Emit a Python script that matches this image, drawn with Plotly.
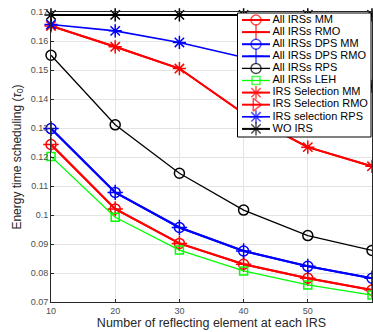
import plotly.graph_objects as go

N = [10, 20, 30, 40, 50, 60]
all_mm = [0.1243, 0.1021, 0.0902, 0.0830, 0.0782, 0.0741]
all_rmo = [0.1243, 0.1021, 0.0902, 0.0830, 0.0782, 0.0741]
dps_mm = [0.1298, 0.1078, 0.0957, 0.0876, 0.0823, 0.0782]
dps_rmo = [0.1298, 0.1078, 0.0957, 0.0876, 0.0823, 0.0782]
all_rps = [0.1551, 0.1311, 0.1144, 0.1017, 0.0929, 0.0878]
all_leh = [0.1202, 0.0992, 0.0879, 0.0807, 0.0759, 0.0724]
sel_mm = [0.1652, 0.1580, 0.1505, 0.1350, 0.1234, 0.1168]
sel_rmo = [0.1652, 0.1580, 0.1505, 0.1350, 0.1234, 0.1168]
sel_rps = [0.1657, 0.1635, 0.1595, 0.1543, 0.1492, 0.1444]
wo_irs = [0.169, 0.169, 0.169, 0.169, 0.169, 0.169]

names = ["All IRSs MM", "All IRSs RMO", "All IRSs DPS MM", "All IRSs DPS RMO",
         "All IRSs RPS", "All IRSs LEH", "IRS Selection MM", "IRS Selection RMO",
         "IRS selection RPS", "WO IRS"]
series = [all_mm, all_rmo, dps_mm, dps_rmo, all_rps, all_leh, sel_mm, sel_rmo, sel_rps, wo_irs]
colors = ["#ff0000", "#ff0000", "#0000ff", "#0000ff", "#000000", "#00ff00",
          "#ff0000", "#ff0000", "#0000ff", "#000000"]
symbols = ["circle-open", "cross-thin-open", "circle-open", "cross-thin-open", "circle-open",
           "square-open", "asterisk-open", "triangle-right-open", "asterisk-open", "asterisk-open"]
sizes = [10, 11, 10, 11, 10, 8, 11, 1, 11, 11]
lwidths = [2, 2, 2, 2, 1.3, 1.3, 2, 2, 1.6, 2]

fig = go.Figure()
for nm, ys, c, s, sz, lw in zip(names, series, colors, symbols, sizes, lwidths):
    fig.add_trace(go.Scatter(x=N, y=ys, name=nm, mode="lines+markers",
                             line=dict(color=c, width=lw),
                             marker=dict(symbol=s, size=sz, color=c, line=dict(color=c, width=1.5)),
                             showlegend=False, cliponaxis=False))

# custom legend on an overlay axis in pixel-like units
bx0, bx1, by0, by1 = 237.5, 371, 13, 137
fig.add_trace(go.Scatter(x=[bx0, bx1, bx1, bx0, bx0], y=[by0, by0, by1, by1, by0],
                         xaxis="x2", yaxis="y2", mode="lines", fill="toself",
                         fillcolor="white", line=dict(color="black", width=1),
                         showlegend=False, hoverinfo="skip"))
leg_sizes = [10, 11, 10, 11, 10, 8, 11, 11, 11, 11]
for i, (nm, c, s, sz, lw) in enumerate(zip(names, colors, symbols, leg_sizes, lwidths)):
    yy = 20 + i * 12.1
    fig.add_trace(go.Scatter(x=[242, 256, 270], y=[yy, yy, yy], xaxis="x2", yaxis="y2",
                             mode="lines+markers", line=dict(color=c, width=lw),
                             marker=dict(symbol=s, size=[0, sz, 0], color=c,
                                         line=dict(color=c, width=1.5)),
                             showlegend=False, hoverinfo="skip"))
    fig.add_trace(go.Scatter(x=[272.5], y=[yy], xaxis="x2", yaxis="y2", mode="text",
                             text=[nm], textposition="middle right",
                             textfont=dict(family="Liberation Sans, Arial", size=11, color="#000000"),
                             showlegend=False, hoverinfo="skip"))

axis_common = dict(showline=True, linecolor="#262626", linewidth=1, mirror=True,
                   ticks="inside", ticklen=3, tickcolor="#262626",
                   showgrid=True, gridcolor="#e3e3e3", gridwidth=1, zeroline=False,
                   tickfont=dict(family="Liberation Sans, Arial", size=9, color="#4d4d4d"))

fig.update_layout(
    width=373, height=332,
    margin=dict(l=51, r=1, t=12, b=30),
    paper_bgcolor="white", plot_bgcolor="white",
    showlegend=False,
    xaxis=dict(range=[10, 60], tickvals=[10, 20, 30, 40, 50, 60],
               title=dict(text="Number of reflecting element at each IRS", standoff=2,
                          font=dict(family="Liberation Sans, Arial", size=12.5, color="#262626")),
               **axis_common),
    yaxis=dict(range=[0.07, 0.17],
               tickvals=[0.07, 0.08, 0.09, 0.1, 0.11, 0.12, 0.13, 0.14, 0.15, 0.16, 0.17],
               ticktext=["0.07", "0.08", "0.09", "0.1", "0.11", "0.12", "0.13", "0.14", "0.15", "0.16", "0.17"],
               title=dict(text="Energy time scheduling (<i>τ</i><sub>0</sub>)", standoff=6,
                          font=dict(family="Liberation Sans, Arial", size=12, color="#262626")),
               **axis_common),
    xaxis2=dict(overlaying="x", range=[51, 372], visible=False, fixedrange=True),
    yaxis2=dict(overlaying="y", range=[302, 12], visible=False, fixedrange=True),
)

fig.write_html("out.html")
